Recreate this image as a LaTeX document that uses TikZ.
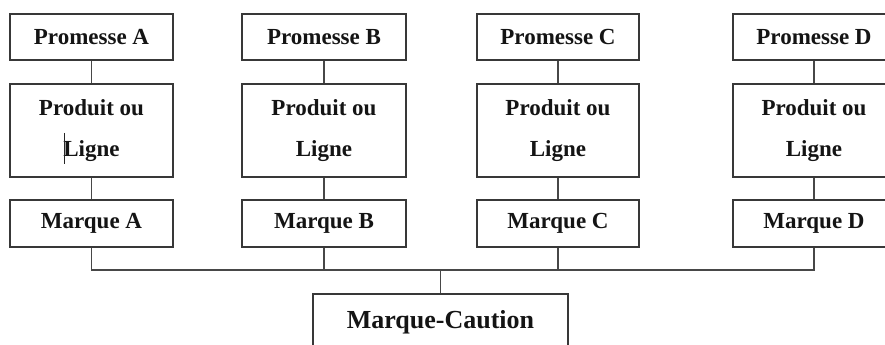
\documentclass[tikz,border=0pt]{standalone}
\usepackage{fontspec}
\setmainfont{Liberation Serif}
\begin{document}
\begin{tikzpicture}[x=0.75pt,y=-0.75pt,
  box/.style={draw=black!78, line width=1.35pt, fill=white, inner sep=0pt,
    font=\fontsize{17.25pt}{30.75pt}\selectfont\bfseries, text=black!92,
    minimum width=122.5pt, align=center},
  promise/.style={box, minimum height=34.5pt},
  product/.style={box, minimum height=69.75pt},
  brand/.style={box, minimum height=35.25pt},
  umbrella/.style={box, minimum width=191.25pt, minimum height=42pt,
    font=\fontsize{19.5pt}{22pt}\selectfont\bfseries},
  link/.style={draw=black!72, line width=1.35pt}]
\useasboundingbox (0,0) rectangle (885,345);
\clip (0,0) rectangle (885,345);

% column of boxes for each promise / product / brand
\foreach \id/\cx/\w in {A/91.5/122.25, B/324/123, C/558/121.5, D/814/121.5}{
  \node[promise, minimum width=\w pt] (p\id) at (\cx,37) {Promesse \id};
  \node[product, minimum width=\w pt] (pr\id) at (\cx,130.5) {Produit ou\\Ligne};
  \node[brand, minimum width=\w pt] (m\id) at (\cx,223.5) {Marque \id};
}

% umbrella brand at the bottom
\node[umbrella] (cau) at (440.5,322) {Marque-Caution};

% vertical links inside each column
\foreach \id in {A,B,C,D}{
  \draw[link] (p\id) -- (pr\id);
  \draw[link] (pr\id) -- (m\id);
}

% common bus joining the brands to the umbrella brand
\coordinate (bus) at (0,270);
\draw[link] (mA.south) -- (mA.south |- bus) -| (mD.south);
\draw[link] (mB.south) -- (mB.south |- bus);
\draw[link] (mC.south) -- (mC.south |- bus);
\draw[link] (cau.north) -- (cau.north |- bus);

% text cursor before "Ligne" in the first column
\draw[black!85, line width=0.75pt] (64,133) -- (64,164);
\end{tikzpicture}
\end{document}
